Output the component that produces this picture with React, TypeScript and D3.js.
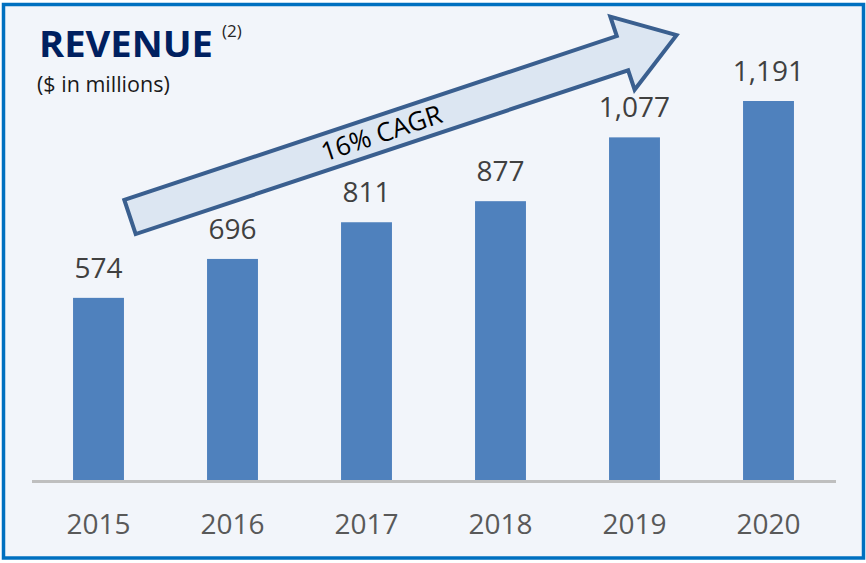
import React, { useEffect, useRef } from 'react';
import * as d3 from 'd3';

const years = ['2015', '2016', '2017', '2018', '2019', '2020'];
const revenue = [574, 696, 811, 877, 1077, 1191];
const title = 'REVENUE';
const footnote = '(2)';
const subtitle = '($ in millions)';
const cagrLabel = '16% CAGR';

const App = () => {
  const svgRef = useRef<SVGSVGElement | null>(null);

  useEffect(() => {
    const w = 866;
    const h = 563;
    const baseline = 481;
    const font = "'Open Sans', 'Noto Sans', sans-serif";

    const svg = d3.select(svgRef.current)
      .attr('width', w)
      .attr('height', h);
    svg.selectAll('*').remove();

    // panel with blue frame
    svg.append('rect')
      .attr('width', w)
      .attr('height', h)
      .attr('fill', '#ffffff');
    svg.append('rect')
      .attr('x', 3.5)
      .attr('y', 4.5)
      .attr('width', 860)
      .attr('height', 553.5)
      .attr('fill', '#F2F5FA')
      .attr('stroke', '#0070C0')
      .attr('stroke-width', 3.5);

    const xScale = d3.scaleBand()
      .domain(years)
      .range([31.5, 835.5])
      .paddingInner(0.62)
      .paddingOuter(0.31);

    const yScale = d3.scaleLinear()
      .domain([0, 1191])
      .range([baseline, 101]);

    // bars
    svg.selectAll('rect.bar')
      .data(revenue)
      .enter()
      .append('rect')
      .attr('class', 'bar')
      .attr('x', (d, i) => xScale(years[i]) as number)
      .attr('y', (d) => yScale(d))
      .attr('width', xScale.bandwidth())
      .attr('height', (d) => baseline - yScale(d))
      .attr('fill', '#4F81BD');

    // value labels
    svg.selectAll('text.value')
      .data(revenue)
      .enter()
      .append('text')
      .attr('class', 'value')
      .text((d) => d3.format(',')(d))
      .attr('x', (d, i) => (xScale(years[i]) as number) + xScale.bandwidth() / 2)
      .attr('y', (d) => yScale(d) - 20)
      .attr('text-anchor', 'middle')
      .attr('font-family', font)
      .attr('font-size', 28)
      .attr('fill', '#404040');

    // x axis
    const xAxis = d3.axisBottom(xScale).tickSize(0).tickPadding(33);
    const gx = svg.append('g')
      .attr('transform', `translate(0,${baseline})`)
      .call(xAxis);
    gx.select('.domain')
      .attr('stroke', '#BFBFBF')
      .attr('stroke-width', 3);
    gx.selectAll('text')
      .attr('font-family', font)
      .attr('font-size', 28)
      .attr('fill', '#595959');

    // growth arrow (local coords: tail centre at origin, pointing along +x)
    const arrow = svg.append('g')
      .attr('transform', 'translate(130,217) rotate(-18.4)');
    arrow.append('path')
      .attr('d', 'M0,-18 L519,-18 L519,-38.5 L576,0 L519,38.5 L519,18 L0,18 Z')
      .attr('fill', '#DCE6F2')
      .attr('stroke', '#3A5F8F')
      .attr('stroke-width', 4)
      .attr('stroke-linejoin', 'miter');
    arrow.append('text')
      .text(cagrLabel)
      .attr('x', 265)
      .attr('y', 9)
      .attr('text-anchor', 'middle')
      .attr('font-family', font)
      .attr('font-size', 26)
      .attr('fill', '#000000');

    // titles
    svg.append('text')
      .text(title)
      .attr('x', 39)
      .attr('y', 57)
      .attr('textLength', 174)
      .attr('lengthAdjust', 'spacingAndGlyphs')
      .attr('font-family', font)
      .attr('font-weight', 700)
      .attr('font-size', 36)
      .attr('fill', '#002060');
    svg.append('text')
      .text(footnote)
      .attr('x', 222)
      .attr('y', 37)
      .attr('font-family', font)
      .attr('font-size', 17)
      .attr('fill', '#262626');
    svg.append('text')
      .text(subtitle)
      .attr('x', 37)
      .attr('y', 92)
      .attr('font-family', font)
      .attr('font-size', 21.5)
      .attr('fill', '#1a1a1a');
  }, []);

  return (
    <div>
      <svg ref={svgRef} style={{ position: 'fixed', left: 0, top: 0, display: 'block' }}></svg>
    </div>
  );
};

export default App;
